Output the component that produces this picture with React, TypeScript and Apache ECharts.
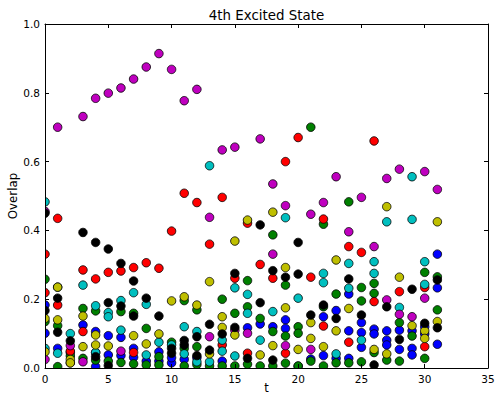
import React, { useEffect, useRef } from "react";
import * as echarts from "echarts";

const title = "4th Excited State";
const xLabel = "t";
const yLabel = "Overlap";
const xTicks = [0, 5, 10, 15, 20, 25, 30, 35];
const yTicks = [0.0, 0.2, 0.4, 0.6, 0.8, 1.0];

const blue: [number, number][] = [
  [0, 0.183], [0, 0.101], [1, 0.057], [2, 0.045], [3, 0.125], [4, 0.106], [4, 0.045], [4, 0.004],
  [5, 0.094], [5, 0.038], [6, 0.089], [6, 0.036], [7, 0.057], [7, 0.031], [8, 0.02], [9, 0.047],
  [9, 0.02], [10, 0.015], [10, 0.03], [11, 0.025], [12, 0.03], [14, 0.02], [16, 0.117], [17, 0.128],
  [18, 0.12], [19, 0.14], [19, 0.115], [20, 0.005], [21, 0.026], [22, 0.149], [22, 0.036],
  [23, 0.167], [23, 0.028], [24, 0.215], [24, 0.108], [24, 0.028], [25, 0.132], [25, 0.103],
  [25, 0.06], [26, 0.113], [26, 0.099], [27, 0.108], [27, 0.081], [27, 0.067], [28, 0.11],
  [28, 0.054], [29, 0.108], [29, 0.057], [29, 0.038], [30, 0.12], [30, 0.099], [31, 0.331],
  [31, 0.233], [31, 0.069],
];
const green: [number, number][] = [
  [0, 0.258], [0, 0.135], [1, 0.123], [1, 0.004], [2, 0.035], [3, 0.173], [3, 0.028], [4, 0.166],
  [4, 0.023], [5, 0.02], [6, 0.164], [6, 0.016], [7, 0.159], [7, 0.012], [8, 0.115], [8, 0.009],
  [9, 0.033], [9, 0.009], [10, 0.075], [11, 0.196], [11, 0.057], [11, 0.006], [12, 0.169],
  [12, 0.062], [12, 0.01], [13, 0.006], [14, 0.2], [14, 0.006], [15, 0.159], [15, 0.006],
  [16, 0.254], [16, 0.178], [16, 0.011], [17, 0.144], [17, 0.006], [18, 0.387], [18, 0.106],
  [18, 0.006], [19, 0.241], [19, 0.093], [19, 0.014], [20, 0.12], [20, 0.101], [20, 0.006],
  [21, 0.7], [21, 0.02], [22, 0.418], [22, 0.178], [22, 0.006], [23, 0.215], [23, 0.015],
  [24, 0.483], [24, 0.015], [25, 0.234], [25, 0.195], [25, 0.018], [26, 0.246], [26, 0.217],
  [26, 0.045], [27, 0.023], [28, 0.132], [28, 0.02], [29, 0.093], [30, 0.278], [30, 0.028],
  [31, 0.265], [31, 0.169],
];
const red: [number, number][] = [
  [0, 0.331], [0, 0.219], [1, 0.435], [1, 0.183], [2, 0.049], [3, 0.285], [3, 0.106], [4, 0.259],
  [5, 0.278], [6, 0.282], [7, 0.292], [7, 0.045], [8, 0.306], [9, 0.29], [10, 0.398], [11, 0.508],
  [12, 0.481], [13, 0.36], [14, 0.496], [14, 0.067], [15, 0.261], [16, 0.421], [16, 0.043],
  [17, 0.301], [18, 0.261], [19, 0.6], [19, 0.043], [20, 0.67], [21, 0.264], [22, 0.433],
  [22, 0.122], [24, 0.353], [24, 0.075], [25, 0.336], [26, 0.66], [26, 0.193], [28, 0.222],
  [30, 0.234], [30, 0.062],
];
const cyan: [number, number][] = [
  [0, 0.483], [0, 0.057], [1, 0.043], [1, 0.235], [2, 0.1], [3, 0.241], [4, 0.181], [4, 0.045],
  [5, 0.161], [5, 0.149], [6, 0.196], [6, 0.11], [7, 0.219], [8, 0.185], [8, 0.038], [9, 0.075],
  [10, 0.067], [11, 0.12], [11, 0.041], [12, 0.106], [12, 0.018], [13, 0.588], [13, 0.018],
  [14, 0.081], [14, 0.049], [15, 0.233], [15, 0.035], [16, 0.214], [16, 0.159], [17, 0.081],
  [18, 0.164], [19, 0.437], [20, 0.203], [22, 0.275], [22, 0.248], [23, 0.041], [24, 0.304],
  [24, 0.232], [25, 0.081], [26, 0.309], [26, 0.275], [27, 0.425], [28, 0.176], [29, 0.556],
  [29, 0.432], [30, 0.309], [30, 0.243],
];
const magenta: [number, number][] = [
  [0, 0.455], [0, 0.025], [1, 0.7], [2, 0.065], [2, 0.015], [3, 0.731], [3, 0.018], [4, 0.784],
  [5, 0.799], [6, 0.814], [6, 0.049], [7, 0.84], [8, 0.875], [9, 0.914], [10, 0.868], [11, 0.777],
  [12, 0.81], [13, 0.438], [13, 0.091], [14, 0.634], [15, 0.642], [15, 0.11], [16, 0.101],
  [17, 0.666], [18, 0.535], [18, 0.331], [19, 0.472], [19, 0.065], [21, 0.447], [21, 0.054],
  [22, 0.481], [23, 0.556], [24, 0.396], [25, 0.496], [26, 0.353], [27, 0.551], [27, 0.198],
  [28, 0.578], [28, 0.156], [29, 0.149], [30, 0.571], [30, 0.203], [31, 0.519],
];
const yellow: [number, number][] = [
  [0, 0.144], [0, 0.047], [1, 0.235], [1, 0.14], [2, 0.025], [2, 0.015], [3, 0.151], [3, 0.062],
  [4, 0.096], [4, 0.067], [5, 0.064], [7, 0.094], [8, 0.07], [9, 0.099], [10, 0.195], [11, 0.207],
  [12, 0.183], [13, 0.251], [13, 0.041], [14, 0.149], [14, 0.118], [15, 0.369], [15, 0.096],
  [16, 0.43], [17, 0.038], [18, 0.453], [18, 0.065], [19, 0.292], [19, 0.175], [20, 0.054],
  [21, 0.132], [21, 0.086], [22, 0.062], [23, 0.314], [23, 0.108], [24, 0.173], [26, 0.054],
  [27, 0.469], [27, 0.041], [28, 0.264], [29, 0.123], [30, 0.108], [30, 0.086], [31, 0.425],
  [31, 0.135],
];
const black: [number, number][] = [
  [0, 0.45], [0, 0.167], [1, 0.203], [1, 0.104], [2, 0.079], [3, 0.394], [4, 0.365], [4, 0.033],
  [5, 0.346], [5, 0.19], [5, 0.007], [6, 0.304], [6, 0.18], [7, 0.253], [7, 0.151], [8, 0.203],
  [9, 0.151], [10, 0.057], [10, 0.043], [11, 0.067], [11, 0.08], [12, 0.091], [12, 0.036],
  [13, 0.127], [13, 0.052], [14, 0.099], [15, 0.275], [15, 0.118], [16, 0.028], [17, 0.416],
  [17, 0.19], [18, 0.283], [18, 0.023], [19, 0.264], [20, 0.365], [20, 0.273], [21, 0.154],
  [22, 0.183], [23, 0.144], [24, 0.259], [25, 0.154], [26, 0.009], [27, 0.178], [28, 0.083],
  [29, 0.229], [30, 0.13], [31, 0.256], [31, 0.117],
];

const seriesList: { name: string; color: string; data: [number, number][] }[] = [
  { name: "b", color: "#0000ff", data: blue },
  { name: "g", color: "#008000", data: green },
  { name: "r", color: "#ff0000", data: red },
  { name: "c", color: "#00bfbf", data: cyan },
  { name: "m", color: "#bf00bf", data: magenta },
  { name: "y", color: "#bfbf00", data: yellow },
  { name: "k", color: "#000000", data: black },
];

const FONT = "DejaVu Sans";
const W = 498;
const H = 394;
const GRID = { left: 45, right: 10, top: 24, bottom: 26 };

export default function App() {
  const ref = useRef<HTMLDivElement>(null);
  useEffect(() => {
    if (!ref.current) return;
    const chart = echarts.init(ref.current, undefined, { renderer: "svg" });
    const axisLine = { show: true, onZero: false, lineStyle: { color: "#000", width: 1 } };
    const tickIn = { show: true, inside: true, length: 4, lineStyle: { color: "#000", width: 1 } };
    const plotW = W - GRID.left - GRID.right;
    const plotH = H - GRID.top - GRID.bottom;
    const mask = { fill: "#fff" };
    chart.setOption({
      animation: false,
      backgroundColor: "#fff",
      grid: { ...GRID, containLabel: false, show: false },
      xAxis: [
        {
          type: "value",
          z: 10,
          min: xTicks[0],
          max: xTicks[xTicks.length - 1],
          interval: 5,
          axisLine,
          axisTick: tickIn,
          splitLine: { show: false },
          axisLabel: { color: "#000", fontFamily: FONT, fontSize: 10.5, margin: 5 },
        },
        {
          type: "value",
          z: 10,
          position: "top",
          min: xTicks[0],
          max: xTicks[xTicks.length - 1],
          interval: 5,
          axisLine,
          axisTick: tickIn,
          splitLine: { show: false },
          axisLabel: { show: false },
        },
      ],
      yAxis: [
        {
          type: "value",
          z: 10,
          min: yTicks[0],
          max: yTicks[yTicks.length - 1],
          interval: 0.2,
          axisLine,
          axisTick: tickIn,
          splitLine: { show: false },
          axisLabel: {
            color: "#000",
            fontFamily: FONT,
            fontSize: 10.5,
            margin: 5,
            formatter: (v: number) => v.toFixed(1),
          },
        },
        {
          type: "value",
          z: 10,
          position: "right",
          min: yTicks[0],
          max: yTicks[yTicks.length - 1],
          interval: 0.2,
          axisLine,
          axisTick: tickIn,
          splitLine: { show: false },
          axisLabel: { show: false },
        },
      ],
      graphic: [
        // white masks outside the plot area, so that markers are clipped at the axes
        { type: "rect", z: 5, silent: true, shape: { x: 0, y: 0, width: GRID.left, height: H }, style: mask },
        { type: "rect", z: 5, silent: true, shape: { x: 0, y: H - GRID.bottom, width: W, height: GRID.bottom }, style: mask },
        { type: "rect", z: 5, silent: true, shape: { x: 0, y: 0, width: W, height: GRID.top }, style: mask },
        { type: "rect", z: 5, silent: true, shape: { x: W - GRID.right, y: 0, width: GRID.right, height: H }, style: mask },
        {
          type: "text",
          z: 12,
          x: GRID.left + plotW / 2,
          y: 15,
          style: {
            text: title,
            fill: "#000",
            font: `13.4px "${FONT}"`,
            textAlign: "center",
            textVerticalAlign: "middle",
          },
        },
        {
          type: "text",
          z: 12,
          x: GRID.left + plotW / 2,
          y: 388,
          style: {
            text: xLabel,
            fill: "#000",
            font: `11.5px "${FONT}"`,
            textAlign: "center",
            textVerticalAlign: "middle",
          },
        },
        {
          type: "text",
          z: 12,
          x: 13,
          y: GRID.top + plotH / 2,
          rotation: Math.PI / 2,
          style: {
            text: yLabel,
            fill: "#000",
            font: `11.8px "${FONT}"`,
            textAlign: "center",
            textVerticalAlign: "middle",
          },
        },
      ],
      series: seriesList.map((s) => ({
        name: s.name,
        type: "scatter",
        z: 2,
        xAxisIndex: 0,
        yAxisIndex: 0,
        symbol: "circle",
        symbolSize: 8.5,
        clip: false,
        itemStyle: { color: s.color, borderColor: "#000", borderWidth: 0.8, opacity: 1 },
        emphasis: { disabled: true },
        data: s.data,
      })),
    });
    return () => chart.dispose();
  }, []);
  return (
    <div
      ref={ref}
      style={{ position: "fixed", left: 0, top: 0, width: W, height: H, background: "#fff" }}
    />
  );
}
